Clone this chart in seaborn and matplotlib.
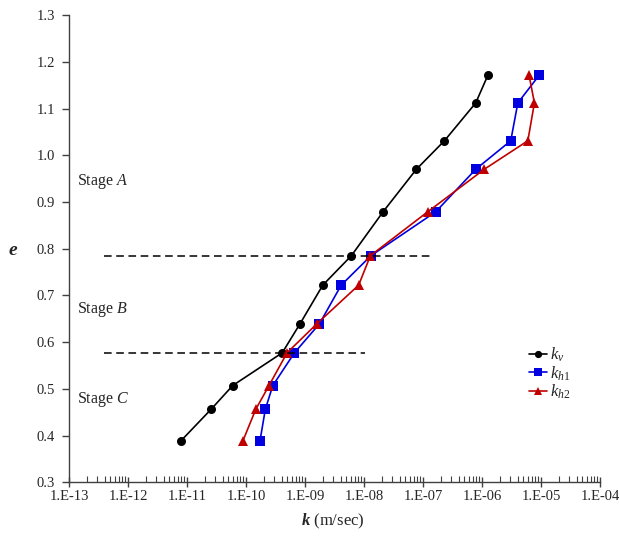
import numpy as np
import pandas as pd
import matplotlib
matplotlib.use("Agg")
import matplotlib.pyplot as plt
import matplotlib.ticker as mticker
import seaborn as sns

# void ratio e (same levels for all three series)
e_vals = [0.388, 0.456, 0.507, 0.577, 0.639, 0.722, 0.785, 0.879, 0.970, 1.031, 1.112, 1.171]

# permeability k (m/sec)
k_v = [7.8e-12, 2.55e-11, 5.95e-11, 4.1e-10, 8.2e-10, 2.0e-09, 6.1e-09,
       2.1e-08, 7.7e-08, 2.3e-07, 7.8e-07, 1.25e-06]
k_h1 = [1.72e-10, 2.12e-10, 2.84e-10, 6.6e-10, 1.75e-09, 4.1e-09, 1.31e-08,
        1.64e-07, 7.8e-07, 3.06e-06, 4.03e-06, 9.25e-06]
k_h2 = [8.8e-11, 1.46e-10, 2.45e-10, 4.95e-10, 1.58e-09, 8.1e-09, 1.28e-08,
        1.2e-07, 1.09e-06, 5.96e-06, 7.7e-06, 6.26e-06]

series_names = ["$k_v$", "$k_{h1}$", "$k_{h2}$"]
colors = ["#000000", "#0000E0", "#C00000"]
markers = ["o", "s", "^"]

# x axis decades shown (exponents)
decades = list(range(-13, -3))

# stage boundaries (dashed lines)
stage_e = [0.785, 0.577]
stage_xmax = [1.5e-07, 1.05e-08]
stage_labels = ["A", "B", "C"]
stage_label_e = [0.944, 0.670, 0.478]

df = pd.DataFrame({
    "k": k_v + k_h1 + k_h2,
    "e": e_vals * 3,
    "series": [series_names[0]] * 12 + [series_names[1]] * 12 + [series_names[2]] * 12,
})

sns.set_style("white")
plt.rcParams["font.family"] = ["Liberation Serif", "DejaVu Serif"]
plt.rcParams["mathtext.fontset"] = "custom"
plt.rcParams["mathtext.rm"] = "Liberation Serif"
plt.rcParams["mathtext.it"] = "Liberation Serif:italic"
plt.rcParams["mathtext.bf"] = "Liberation Serif:bold:italic"

fig = plt.figure(figsize=(6.19, 5.4), dpi=100)
ax = fig.add_axes([0.1115, 0.107, 0.858, 0.865])

sns.lineplot(data=df, x="k", y="e", hue="series", style="series",
             hue_order=series_names, style_order=series_names,
             palette=colors, markers=markers, dashes=False,
             sort=False, estimator=None, units="series",
             linewidth=1.2, markersize=6.5, markeredgewidth=0,
             ax=ax)

ax.set_xscale("log")
ax.set_xlim(1e-13, 1e-4)
ax.set_ylim(0.3, 1.3)

for ey, xm in zip(stage_e, stage_xmax):
    ax.hlines(ey, 3.9e-13, xm, colors="black", linestyles=(0, (5, 3)), linewidth=1.1)

for lab, ey in zip(stage_labels, stage_label_e):
    ax.text(1.35e-13, ey, "Stage $\\it{" + lab + "}$", fontsize=11.5, va="center", ha="left")

# axes styling
sns.despine(ax=ax)
for s in ["left", "bottom"]:
    ax.spines[s].set_color("#404040")
    ax.spines[s].set_linewidth(1.0)

ax.yaxis.set_major_locator(mticker.MultipleLocator(0.1))
ax.yaxis.set_major_formatter(mticker.FormatStrFormatter("%.1f"))
major_ticks = [10.0 ** d for d in decades]
minor_ticks = [m * 10.0 ** d for d in decades[:-1] for m in range(2, 10)]
ax.xaxis.set_major_locator(mticker.FixedLocator(major_ticks))
ax.xaxis.set_minor_locator(mticker.FixedLocator(minor_ticks))
ax.xaxis.set_minor_formatter(mticker.NullFormatter())
ax.set_xticklabels(["1.E-%02d" % -d for d in decades])

ax.tick_params(axis="y", which="major", direction="out", length=5, width=1, color="#404040",
               labelsize=10.5, pad=5, left=True)
ax.tick_params(axis="x", which="major", direction="inout", length=7, width=1, color="#404040",
               labelsize=10.5, pad=2, bottom=True)
ax.tick_params(axis="x", which="minor", direction="in", length=4, width=0.8, color="#404040",
               bottom=True)

ax.set_xlabel("$\\mathbf{k}$ (m/sec)", fontsize=12)
ax.xaxis.set_label_coords(0.497, -0.064)
ax.set_ylabel("$\\mathbf{e}$", fontsize=14, rotation=0, va="center", ha="center")
ax.yaxis.set_label_coords(-0.105, 0.497)

leg = ax.legend(loc="upper left", bbox_to_anchor=(0.85, 0.31), frameon=False,
                fontsize=12, handlelength=1.1, handletextpad=0.15, labelspacing=0.0,
                borderpad=0, markerscale=0.8)
ax.grid(False)

fig.savefig("out.png", dpi=100)
